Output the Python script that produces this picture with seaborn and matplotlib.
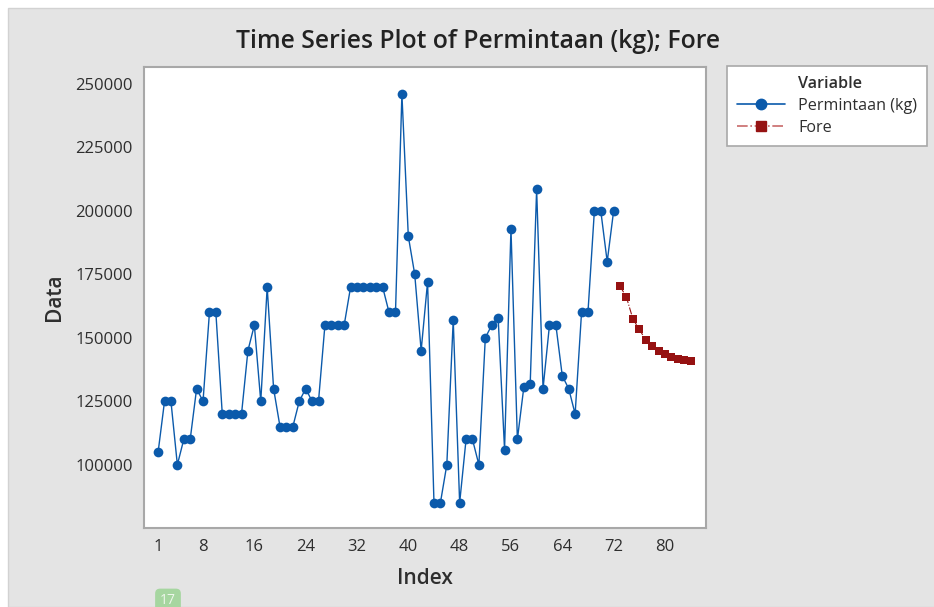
import pandas as pd
import matplotlib.pyplot as plt
import seaborn as sns
from matplotlib.patches import Rectangle
from matplotlib.lines import Line2D

# Data
permintaan = [105000, 125000, 125000, 100000, 110000, 110000, 130000, 125000, 160000, 160000,
              120000, 120000, 120000, 120000, 145000, 155000, 125000, 170000, 130000, 115000,
              115000, 115000, 125000, 130000, 125000, 125000, 155000, 155000, 155000, 155000,
              170000, 170000, 170000, 170000, 170000, 170000, 160000, 160000, 246000, 190000,
              175000, 145000, 172000, 85000, 85000, 100000, 157000, 85000, 110000, 110000,
              100000, 150000, 155000, 158000, 106000, 193000, 110000, 130500, 132000, 208500,
              130000, 155000, 155000, 135000, 130000, 120000, 160000, 160000, 200000, 200000,
              180000, 200000]
fore = [170400, 166000, 157500, 153300, 149300, 146700, 145000, 143700, 142500, 141800,
        141200, 141000]
xticks = [1, 8, 16, 24, 32, 40, 48, 56, 64, 72, 80]
yticks = [100000, 125000, 150000, 175000, 200000, 225000, 250000]
labels = ["Permintaan (kg)", "Fore"]

n = len(permintaan)
df = pd.concat([
    pd.DataFrame({"Index": range(1, n + 1), "Data": permintaan, "Variable": labels[0]}),
    pd.DataFrame({"Index": range(n + 1, n + len(fore) + 1), "Data": fore, "Variable": labels[1]}),
], ignore_index=True)

sns.set_style("white")
plt.rcParams["font.family"] = ["Open Sans", "DejaVu Sans"]

blue = "#0b5aab"
red = "#961212"
grey_bg = "#e4e4e4"
txt = "#2e2e2e"

fig = plt.figure(figsize=(9.34, 6.07), dpi=100)
fig.patch.set_facecolor("white")
fig.patches.append(Rectangle((8 / 934, 0), 1, 1 - 8 / 607, transform=fig.transFigure,
                             facecolor=grey_bg, edgecolor="#d2d2d2", lw=1, zorder=-1))

ax = fig.add_axes([144 / 934, 1 - 528 / 607, 562 / 934, 461 / 607])
ax.set_facecolor("white")

sns.lineplot(data=df[df["Variable"] == labels[0]], x="Index", y="Data", ax=ax,
             color=blue, linewidth=1.0, marker="o", markersize=7,
             markeredgecolor=blue, markeredgewidth=0)
sns.lineplot(data=df[df["Variable"] == labels[1]], x="Index", y="Data", ax=ax,
             color=red, linewidth=0.8, linestyle="-.", marker="s", markersize=6,
             markeredgecolor=red, markeredgewidth=0)

ax.set_xlim(-1.2, 86.4)
ax.set_ylim(75100, 256700)
ax.set_xticks(xticks)
ax.set_xticklabels([str(t) for t in xticks])
ax.set_yticks(yticks)
ax.set_yticklabels([str(t) for t in yticks])
ax.tick_params(axis="both", direction="out", length=4, width=1, color="#a0a0a0",
               labelsize=12, labelcolor=txt, pad=4)
for s in ax.spines.values():
    s.set_color("#a8a8a8")
    s.set_linewidth(1.5)
ax.set_xlabel("")
ax.set_ylabel("")

fig.text(478 / 934, 1 - 42 / 607, "Time Series Plot of Permintaan (kg); Fore",
         ha="center", va="center", fontsize=17.8, fontweight="semibold", color="#222222")
fig.text(55 / 934, 1 - 297 / 607, "Data", rotation=90, ha="center", va="center",
         fontsize=15, fontweight="semibold", color=txt)
fig.text(425 / 934, 1 - 578 / 607, "Index", ha="center", va="center",
         fontsize=15, fontweight="semibold", color=txt)

handles = [Line2D([], [], linestyle="none"),
           Line2D([], [], color=blue, lw=1.2, marker="o", markersize=7.5),
           Line2D([], [], color="#c86a6a", lw=1.2, ls="-.", marker="s", markersize=7.5,
                  markerfacecolor=red, markeredgecolor=red)]
leg = fig.legend(handles, ["Variable"] + labels, loc="upper left",
                 bbox_to_anchor=(727 / 934, 1 - 66 / 607), bbox_transform=fig.transFigure,
                 frameon=True, fancybox=False, framealpha=1, edgecolor="#a8a8a8",
                 facecolor="white", fontsize=11.6,
                 handlelength=3.0, handletextpad=0.8, labelspacing=0.38,
                 borderpad=0.6, borderaxespad=0)
leg.get_frame().set_linewidth(1.2)
for t in leg.get_texts():
    t.set_color(txt)
leg.get_texts()[0].set_fontweight("semibold")

fig.text(168 / 934, 1 - 601 / 607, "17", ha="center", va="center", fontsize=10,
         color="#eef7ec", bbox=dict(boxstyle="round,pad=0.35", fc="#a6d6a0", ec="none"))

fig.savefig("out.png", dpi=100)
